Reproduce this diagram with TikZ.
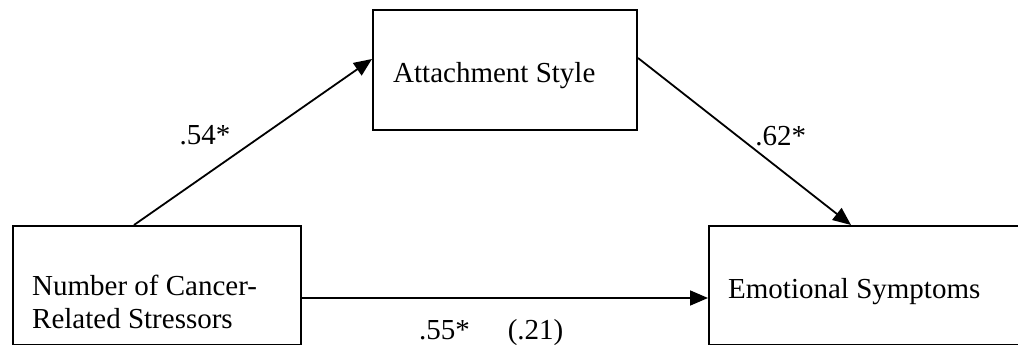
\documentclass[tikz,border=0pt]{standalone}
\usepackage{fontspec}
\setmainfont{Liberation Serif}
\usetikzlibrary{arrows.meta}

\tikzset{
  varbox/.style={draw, line width=2pt, inner sep=0pt, anchor=north west},
  vartext/.style={font=\fontsize{29}{33}\selectfont, inner sep=0pt, align=left},
  coef/.style={font=\fontsize{29}{33}\selectfont, inner sep=0pt},
  path arrow/.style={line width=1.8pt, -{Triangle[length=18pt,width=15pt]}}
}

\begin{document}
\begin{tikzpicture}[x=1pt, y=-1pt]
  \clip (0,0) rectangle (1018,345);
  % the three variables
  \node[varbox, minimum width=288pt, minimum height=119pt] (stressors) at (12,225) {};
  \node[varbox, minimum width=264pt, minimum height=120pt] (attachment) at (372,9) {};
  \node[varbox, minimum width=330pt, minimum height=119pt] (symptoms) at (708,225) {};

  \node[vartext, anchor=base west] (stressorsname) at (32,328) {Number of Cancer-\\Related Stressors};
  \node[vartext, anchor=base west] (attachmentname) at (393,82) {Attachment Style};
  \node[vartext, anchor=base west] (symptomsname) at (728,298) {Emotional Symptoms};

  % paths with their coefficients
  \draw[path arrow] ([xshift=-23pt]stressors.north) --node[coef, pos=0.4, anchor=south east, xshift=2pt, yshift=13pt]{.54*} ([yshift=11pt]attachment.west) ;
  \draw[path arrow] ([yshift=12pt]attachment.east) --node[coef, pos=0.547, anchor=base west, yshift=4pt]{.62*} ([xshift=-23pt]symptoms.north) ;
  \draw[path arrow] ([yshift=-12.5pt]stressors.east) --node[coef, pos=0.466, anchor=base, yshift=-41pt]{.55*\hspace{38pt}(.21)} ([yshift=-12.5pt]symptoms.west) ;

\end{tikzpicture}
\end{document}
